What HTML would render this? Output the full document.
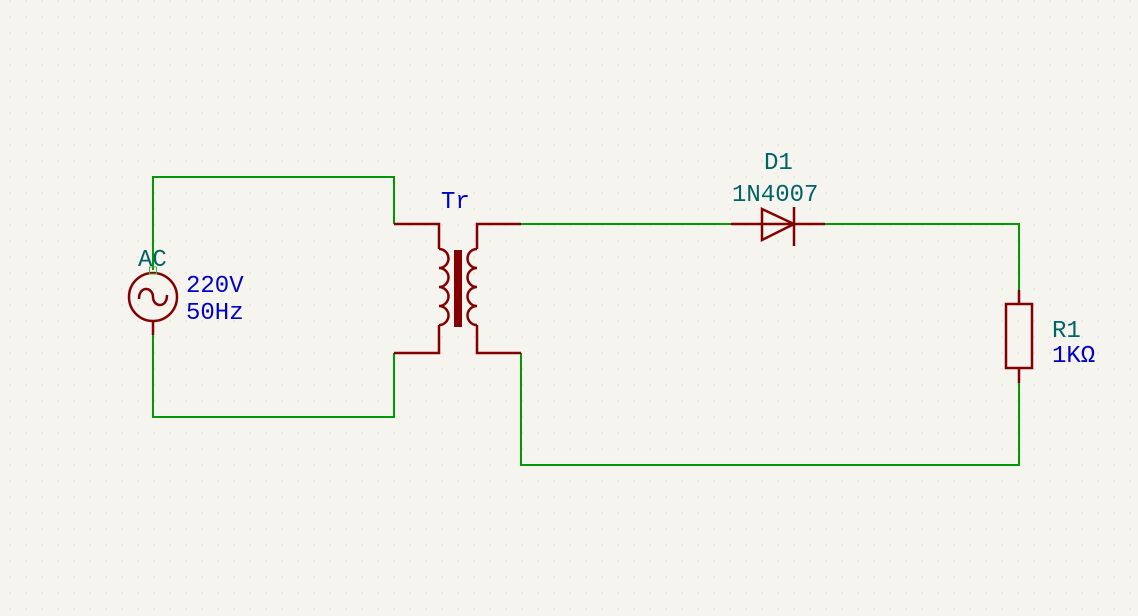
<!DOCTYPE html>
<html><head><style>
html,body{margin:0;padding:0;background:#f5f4ef;}
svg{display:block}
text{font-family:"Liberation Mono",monospace;font-size:24px;}
</style></head><body>
<svg width="1138" height="616" viewBox="0 0 1138 616" xmlns="http://www.w3.org/2000/svg">
<defs>
<pattern id="g" x="9" y="0" width="16" height="16" patternUnits="userSpaceOnUse">
<rect x="0.5" y="0.5" width="1.2" height="1.2" fill="#cfcfcb"/>
</pattern>
</defs>
<rect width="1138" height="616" fill="#f5f4ef"/>
<rect width="1138" height="616" fill="url(#g)"/>
<g fill="none" stroke="#009900" stroke-width="2">
<polyline points="153,270 153,177 394,177 394,224"/>
<polyline points="153,335 153,417 394,417 394,353"/>
<polyline points="521,224 731,224"/>
<polyline points="825,224 1019,224 1019,290"/>
<polyline points="1019,383 1019,465 521,465 521,353"/>
</g>
<g fill="none" stroke="#840000" stroke-width="2.5">
<circle cx="153" cy="297" r="24"/>
<path d="M139,299 C139,285 153,287 153,297 C153,307 167,309 167,295"/>
<line x1="153" y1="321" x2="153" y2="335"/>
<polyline points="394,224 439,224 439,249"/>
<path d="M439,249 a9.5,9.5 0 0 1 0,19 a9.5,9.5 0 0 1 0,19 a9.5,9.5 0 0 1 0,19 a9.5,9.5 0 0 1 0,19"/>
<polyline points="439,325 439,353 394,353"/>
<polyline points="521,224 477,224 477,249"/>
<path d="M477,249 a9.5,9.5 0 0 0 0,19 a9.5,9.5 0 0 0 0,19 a9.5,9.5 0 0 0 0,19 a9.5,9.5 0 0 0 0,19"/>
<polyline points="477,325 477,353 521,353"/>
<line x1="731" y1="224" x2="825" y2="224"/>
<polygon points="762,209 762,240 794,224"/>
<line x1="794" y1="207" x2="794" y2="246"/>
<line x1="1019" y1="290" x2="1019" y2="303"/>
<rect x="1006" y="304" width="26" height="64"/>
<line x1="1019" y1="368" x2="1019" y2="383"/>
</g>
<rect x="454" y="250" width="8" height="77" fill="#840000"/>
<rect x="149.5" y="267" width="7" height="7" fill="none" stroke="#3cb43c" stroke-width="1"/>
<text x="138" y="266" fill="#006464">AC</text>
<text x="186" y="292" fill="#0000c4">220V</text>
<text x="186" y="319" fill="#0000c4">50Hz</text>
<text x="441" y="208" fill="#0000c4">Tr</text>
<text x="764" y="169" fill="#006464">D1</text>
<text x="732" y="201" fill="#006464">1N4007</text>
<text x="1052" y="337" fill="#006464">R1</text>
<text x="1052" y="362" fill="#0000c4">1KΩ</text>
</svg>
</body></html>
